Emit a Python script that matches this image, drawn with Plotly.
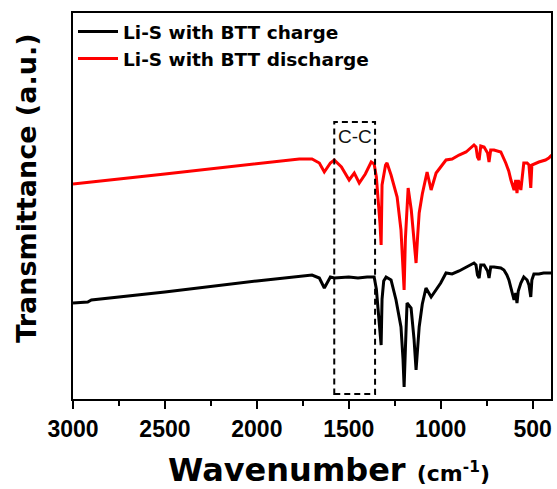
import plotly.graph_objects as go

# ---- data (wavenumber in cm^-1, transmittance in arbitrary units) ----
wn_charge = [3000, 2920, 2900, 2500, 2000, 1769, 1700, 1660, 1633, 1600,
             1579, 1500, 1450, 1400, 1362, 1350, 1340, 1330, 1324, 1319,
             1310, 1297, 1270, 1243, 1216, 1205, 1199, 1192, 1183, 1161,
             1145, 1134, 1125, 1117, 1100, 1080, 1052, 1025, 1000, 971,
             938, 900, 862, 819, 808, 800, 791, 782, 764, 745,
             737, 728, 710, 673, 656, 640, 629, 615, 601, 592,
             585, 578, 564, 548, 530, 520, 510, 504, 493, 466,
             440, 412, 396]
t_charge = [96, 97, 99, 107, 118, 123, 124, 121, 111, 122,
            121, 122, 121, 122, 122, 110, 90, 65, 54, 100,
            118, 122, 119, 99, 72, 40, 12, 50, 96, 91,
            60, 29, 55, 72, 95, 111, 102, 109, 116, 126,
            125, 128, 132, 136, 134, 124, 121, 134, 134, 128,
            121, 132, 132, 131, 129, 124, 119, 110, 99, 106,
            96, 108, 116, 122, 119, 114, 102, 119, 125, 125,
            126, 126, 126]

wn_discharge = [3000, 2920, 2900, 2500, 2000, 1769, 1700, 1660, 1633, 1600,
                1579, 1540, 1498, 1470, 1443, 1410, 1378, 1362, 1350, 1340,
                1330, 1324, 1319, 1300, 1292, 1270, 1237, 1216, 1205, 1199,
                1192, 1177, 1160, 1145, 1134, 1125, 1117, 1100, 1074, 1052,
                1025, 1000, 971, 938, 900, 862, 819, 808, 800, 791,
                782, 764, 745, 737, 728, 710, 673, 646, 630, 618,
                601, 592, 585, 578, 564, 548, 530, 520, 510, 504,
                466, 430, 412, 396]
t_discharge = [215, 216, 217, 225, 235, 240, 240, 236, 227, 236,
               239, 232, 219, 226, 216, 225, 237, 235, 222, 200,
               175, 154, 214, 234, 236, 224, 202, 169, 134, 109,
               160, 211, 189, 159, 136, 164, 186, 205, 227, 209,
               226, 232, 239, 240, 244, 247, 254, 252, 242, 239,
               253, 252, 246, 237, 249, 249, 247, 236, 228, 219,
               209, 219, 206, 219, 209, 236, 236, 234, 211, 234,
               237, 239, 241, 244]

series_names = ["Li-S with BTT charge", "Li-S with BTT discharge"]
x_ticks = [3000, 2500, 2000, 1500, 1000, 500]
cc_region = [1579, 1357]   # C-C highlighted band
cc_levels = [5, 277]

ARIAL_B = "Liberation Sans, Arial, sans-serif"

fig = go.Figure()
fig.add_trace(go.Scatter(x=wn_charge, y=t_charge, mode="lines", name=series_names[0],
                         line=dict(color="black", width=3)))
fig.add_trace(go.Scatter(x=wn_discharge, y=t_discharge, mode="lines", name=series_names[1],
                         line=dict(color="#ff0000", width=3)))

fig.add_shape(type="rect", xref="x", yref="y",
              x0=cc_region[0], x1=cc_region[1], y0=cc_levels[0], y1=cc_levels[1],
              line=dict(color="black", width=2, dash="6px,4px"), fillcolor="rgba(0,0,0,0)")
fig.add_annotation(x=sum(cc_region) / 2, y=cc_levels[1], xref="x", yref="y",
                   text="C-C", showarrow=False, yanchor="top", yshift=-2,
                   font=dict(family=ARIAL_B, size=19, color="#111111"))

# axis titles
fig.add_annotation(x=0.535, y=-0.184, xref="paper", yref="paper", showarrow=False,
                   xanchor="center", yanchor="middle",
                   text="<b>Wavenumber <span style='font-size:22px'>(cm<sup>-1</sup>)</span></b>",
                   font=dict(family="DejaVu Sans", size=32, color="black"))
fig.add_annotation(x=-0.098, y=0.545, xref="paper", yref="paper", showarrow=False,
                   xanchor="center", yanchor="middle", textangle=-90,
                   text="<b>Transmittance (a.u.)</b>",
                   font=dict(family="DejaVu Sans", size=27, color="black"))

fig.update_layout(
    width=557, height=489,
    margin=dict(l=73, r=4, t=13, b=90),
    paper_bgcolor="white", plot_bgcolor="white",
    showlegend=True,
    legend=dict(x=0.0, y=1.0, xanchor="left", yanchor="top",
                bgcolor="rgba(0,0,0,0)", borderwidth=0,
                font=dict(family="DejaVu Sans", size=18.5, color="black", weight="bold"),
                tracegroupgap=0, itemwidth=40),
    xaxis=dict(range=[3000, 400], tickvals=x_ticks, ticktext=[str(v) for v in x_ticks],
               showline=True, linecolor="black", linewidth=2, mirror=True,
               ticks="outside", ticklen=8, tickwidth=2, tickcolor="black",
               minor=dict(dtick=250, ticks="outside", ticklen=5, tickwidth=2, tickcolor="black",
                          tick0=0),
               showgrid=False, zeroline=False,
               tickfont=dict(family=ARIAL_B, size=23, color="black", weight="bold")),
    yaxis=dict(range=[0, 386], showline=True, linecolor="black", linewidth=2, mirror=True,
               showticklabels=False, ticks="", showgrid=False, zeroline=False),
)

fig.write_html("out.html")
